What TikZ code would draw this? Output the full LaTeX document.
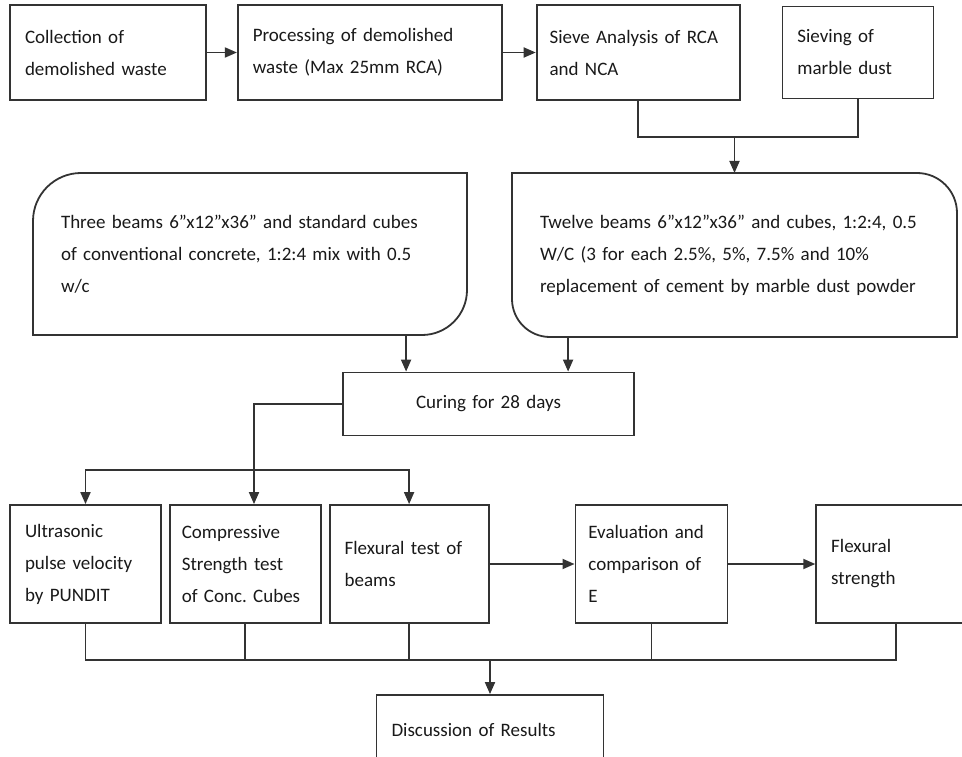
\documentclass[tikz,border=0pt]{standalone}
\usepackage{fontspec}
\setmainfont{Carlito}
\usetikzlibrary{arrows.meta,positioning}
\hyphenpenalty=10000
\exhyphenpenalty=10000
\frenchspacing

\begin{document}
\begin{tikzpicture}[
  x=1pt, y=1pt,
  blk/.style={rectangle, draw=black!80, line width=1.8pt, align=left, inner xsep=15pt, inner ysep=4pt, text=black!90, font=\fontsize{19}{32}\selectfont},
  rblk/.style={blk, draw=none, inner xsep=28pt, outer sep=0pt},
  link/.style={draw=black!80, line width=1.8pt},
  flow/.style={link, -{Triangle[length=12pt,width=10pt]}},
  fork/.style={link, {Triangle[length=12pt,width=10pt]}-{Triangle[length=12pt,width=10pt]}}
]
\useasboundingbox (0,0) rectangle (962,-757);

% Top: material preparation
\node[blk, text width=166pt, minimum height=95pt] (collect) at (108,-52.5) {Collection of\\demolished waste};
\node[blk, text width=234pt, minimum height=95pt, right=30pt of collect] (process) {Processing of demolished\\waste (Max 25mm RCA)};
\node[blk, inner xsep=13pt, text width=177pt, minimum height=95pt, right=33pt of process] (sieve) {Sieve Analysis of RCA\\and NCA};
\node[blk, text width=121pt, minimum height=92pt, right=41pt of sieve] (marble) {Sieving of\\marble dust};

% Middle: the two mixes
\node[rblk, text width=378pt, minimum height=162pt] (plain) at (250,-254) {Three beams 6”x12”x36” and standard cubes\\of conventional concrete, 1:2:4 mix with 0.5\\w/c};
\node[rblk, text width=389pt, minimum height=164pt] (mixes) at (734.5,-255) {Twelve beams 6”x12”x36” and cubes, 1:2:4, 0.5\\W/C (3 for each 2.5\%, 5\%, 7.5\% and 10\%\\replacement of cement by marble dust powder};
\draw[link] ([yshift=-48pt]plain.north west) arc[start angle=180, end angle=90, radius=48pt] -- (plain.north east) -- ([yshift=45pt]plain.south east) arc[start angle=0, end angle=-90, radius=45pt] -- (plain.south west) -- cycle;
\draw[link] (mixes.north west) -- ([xshift=-40pt]mixes.north east) arc[start angle=90, end angle=0, radius=40pt] -- (mixes.south east) -- ([xshift=38pt]mixes.south west) arc[start angle=270, end angle=180, radius=38pt] -- cycle;

\node[blk, align=center, text width=261pt, minimum height=63pt] (cure) at (488.5,-404) {Curing for 28 days};

% Bottom: tests and results
\node[blk, text width=121pt, minimum height=118pt] (ultra) at (85.5,-564) {Ultrasonic\\pulse velocity\\by PUNDIT};
\node[blk, inner xsep=12pt, text width=127pt, minimum height=118pt, right=7pt of ultra] (comp) {Compressive\\Strength test\\of Conc. Cubes};
\node[blk, text width=129pt, minimum height=118pt, right=7pt of comp] (flex) {Flexural test of\\beams};
\node[blk, inner xsep=13pt, text width=126pt, minimum height=118pt, right=85pt of flex] (eval) {Evaluation and\\comparison of\\E};
\node[blk, text width=145pt, minimum height=118pt, right=87pt of eval] (strength) {Flexural\\strength};
\node[blk, text width=197pt, minimum height=70pt] (disc) at (490,-730) {Discussion of Results};

% connectors
\draw[flow] (collect) -- (process);
\draw[flow] (process) -- (sieve);
\coordinate (join) at (734.5,-137);
\draw[link] (sieve.south) |- (join) -| (marble.south);
\draw[flow] (join) -- (mixes.north);

\coordinate (inA) at ([xshift=64pt]cure.north west);
\coordinate (inB) at ([xshift=226pt]cure.north west);
\draw[flow] (plain.south -| inA) -- (inA);
\draw[flow] (mixes.south -| inB) -- (inB);

\coordinate (trunk) at (254,-470);
\draw[flow] (cure.west) -| (comp.north -| trunk);
\draw[fork] (ultra.north) |- (trunk) -| (flex.north);

\draw[flow] (flex) -- (eval);
\draw[flow] (eval) -- (strength);

\coordinate (merge) at (490,-660);
\draw[link] (ultra.south) |- (merge) -| ([xshift=-8pt]strength.south);
\foreach \n in {comp, flex, eval}
  \draw[link] (\n.south) -- (\n.south |- merge);
\draw[flow] (merge) -- (disc.north);
\end{tikzpicture}
\end{document}
